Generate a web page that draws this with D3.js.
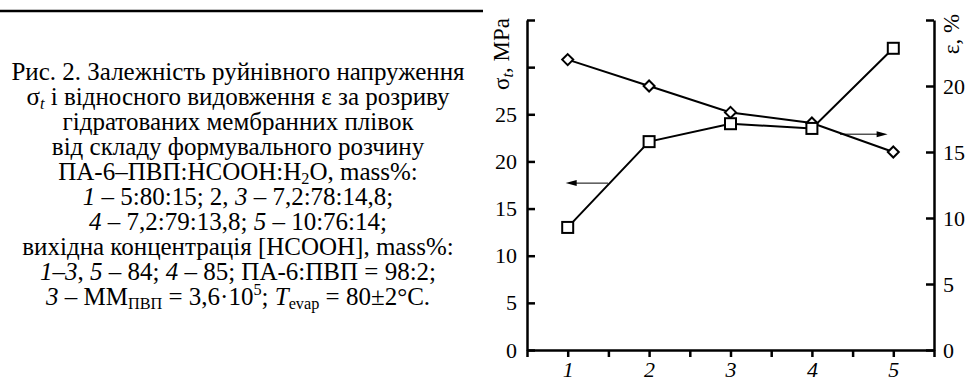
<!DOCTYPE html>
<html>
<head>
<meta charset="utf-8">
<script src="https://cdn.jsdelivr.net/npm/d3@7"></script>
<style>
  html, body { margin: 0; padding: 0; background: #fff; }
  svg { display: block; }
</style>
</head>
<body>
<svg id="chart" width="967" height="381" font-family="Liberation Serif"></svg>
<script>
// ---- data ----
const categories = [1, 2, 3, 4, 5];
const sigmaValues = [13.0, 22.1, 24.0, 23.5, 32.0];     // squares, left axis (MPa)
const epsilonValues = [22.0, 20.0, 18.0, 17.2, 15.0];   // diamonds, right axis (%)
const xTickValues = [0.5, 1, 1.5, 2, 2.5, 3, 3.5, 4, 4.5, 5, 5.5];
const leftTickValues = [0, 5, 10, 15, 20, 25, 30, 35];
const leftTickLabels = ["0", "5", "10", "15", "20", "25", "", ""];
const rightTickValues = [0, 5, 10, 15, 20, 25];
const rightTickLabels = ["0", "5", "10", "15", "20", ""];
// arrows in data units: [x from, x to, value]
const arrowLeft = [1.495, 0.975, 17.7];
const arrowRight = [4.345, 4.93, 16.35];

const captionLines = [
  [["Рис. 2. Залежність руйнівного напруження"]],
  [["σ"], ["t", "subi"], [" і відносного видовження ε за розриву"]],
  [["гідратованих мембранних плівок"]],
  [["від складу формувального розчину"]],
  [["ПА-6–ПВП:НСООН:Н"], ["2", "sub"], ["О, mass%:"]],
  [["1", "i"], [" – 5:80:15; 2, "], ["3", "i"], [" – 7,2:78:14,8;"]],
  [["4", "i"], [" – 7,2:79:13,8; "], ["5", "i"], [" – 10:76:14;"]],
  [["вихідна концентрація [НСООН], mass%:"]],
  [["1–3", "i"], [", "], ["5", "i"], [" – 84; "], ["4", "i"], [" – 85; ПА-6:ПВП = 98:2;"]],
  [["3", "i"], [" – ММ"], ["ПВП", "sub"], [" = 3,6·10"], ["5", "sup"], ["; "], ["T", "i"], ["evap", "sub"], [" = 80±2°C."]]
];

const FONT = "Liberation Serif";
const svg = d3.select("#chart");

// top rule
svg.append("line").attr("x1", 0).attr("x2", 483).attr("y1", 11).attr("y2", 11)
  .attr("stroke", "#000").attr("stroke-width", 2.5);

// caption
const capFont = 25;
const cap = svg.append("g");
captionLines.forEach((parts, i) => {
  const t = cap.append("text")
    .attr("x", 238).attr("y", 80 + i * 25)
    .attr("text-anchor", "middle")
    .attr("font-family", FONT).attr("font-size", capFont).attr("fill", "#000");
  let shift = 0; // current baseline offset
  parts.forEach(p => {
    const kind = p[1];
    let target = 0, size = capFont, style = "normal";
    if (kind === "sub" || kind === "subi") { target = 4; size = capFont * 0.65; style = kind === "subi" ? "italic" : "normal"; }
    else if (kind === "sup") { target = -10; size = capFont * 0.65; }
    else if (kind === "i") { style = "italic"; }
    const ts = t.append("tspan").attr("font-size", size).attr("font-style", style).text(p[0]);
    if (target !== shift) ts.attr("dy", target - shift);
    shift = target;
  });
});

// scales
const x = d3.scaleLinear().domain([0.5, 5.5]).range([527, 934]);
const yL = d3.scaleLinear().domain([0, 35]).range([350, 20]);
const yR = d3.scaleLinear().domain([0, 25]).range([350, 20]);

const tickFont = 22;

// x axis
const gx = svg.append("g").attr("transform", "translate(0,350)")
  .call(d3.axisBottom(x).tickValues(xTickValues).tickSizeInner(7).tickSizeOuter(0).tickPadding(4)
    .tickFormat(d => Number.isInteger(d) ? String(d) : ""));
// left axis
const gl = svg.append("g").attr("transform", "translate(527,0)")
  .call(d3.axisLeft(yL).tickValues(leftTickValues).tickSizeInner(-8).tickSizeOuter(0).tickPadding(10)
    .tickFormat((d, i) => leftTickLabels[i]));
// right axis
const gr = svg.append("g").attr("transform", "translate(934,0)")
  .call(d3.axisRight(yR).tickValues(rightTickValues).tickSizeInner(-8).tickSizeOuter(0).tickPadding(9)
    .tickFormat((d, i) => rightTickLabels[i]));

[gx, gl, gr].forEach(g => {
  g.attr("font-family", FONT).attr("font-size", tickFont);
  g.selectAll(".domain").attr("stroke", "#000").attr("stroke-width", 2.5);
  g.selectAll(".tick line").attr("stroke", "#000").attr("stroke-width", 2.5);
  g.selectAll("text").attr("font-family", FONT).attr("font-size", tickFont).attr("fill", "#000");
  g.selectAll(".tick text").filter(function () { return this.textContent === ""; }).remove();
});
gx.selectAll("text").attr("font-style", "italic");

// axis titles
const lt = svg.append("text")
  .attr("transform", "translate(509,54) rotate(-90)")
  .attr("text-anchor", "middle").attr("font-family", FONT).attr("font-size", 23).attr("fill", "#000");
lt.append("tspan").text("σ");
lt.append("tspan").attr("dy", 4).attr("font-size", 16).attr("font-style", "italic").text("t");
lt.append("tspan").attr("dy", -4).text(", MPa");

svg.append("text")
  .attr("transform", "translate(959,34) rotate(-90)")
  .attr("text-anchor", "middle").attr("font-family", FONT).attr("font-size", 23).attr("fill", "#000")
  .text("ε, %");

// lines
const lineSigma = d3.line().x((d, i) => x(categories[i])).y(d => yL(d));
const lineEps = d3.line().x((d, i) => x(categories[i])).y(d => yR(d));

svg.append("path").datum(epsilonValues).attr("d", lineEps)
  .attr("fill", "none").attr("stroke", "#000").attr("stroke-width", 2);
svg.append("path").datum(sigmaValues).attr("d", lineSigma)
  .attr("fill", "none").attr("stroke", "#000").attr("stroke-width", 2);

// markers
svg.append("g").selectAll("path").data(epsilonValues).join("path")
  .attr("transform", (d, i) => `translate(${x(categories[i])},${yR(d)})`)
  .attr("d", "M0,-5.5L5.5,0L0,5.5L-5.5,0Z")
  .attr("fill", "#fff").attr("stroke", "#000").attr("stroke-width", 2);
svg.append("g").selectAll("rect").data(sigmaValues).join("rect")
  .attr("x", (d, i) => x(categories[i]) - 5.5).attr("y", d => yL(d) - 5.5)
  .attr("width", 11).attr("height", 11)
  .attr("fill", "#fff").attr("stroke", "#000").attr("stroke-width", 2);

// arrows
function arrow(x1, x2, y) {
  const dir = Math.sign(x2 - x1);
  svg.append("line").attr("x1", x1).attr("x2", x2 - dir * 9).attr("y1", y).attr("y2", y)
    .attr("stroke", "#000").attr("stroke-width", 1);
  svg.append("path")
    .attr("d", `M${x2},${y}L${x2 - dir * 11},${y - 3}L${x2 - dir * 11},${y + 3}Z`)
    .attr("fill", "#000");
}
arrow(x(arrowLeft[0]), x(arrowLeft[1]), yL(arrowLeft[2]));
arrow(x(arrowRight[0]), x(arrowRight[1]), yR(arrowRight[2]));
</script>
</body>
</html>
